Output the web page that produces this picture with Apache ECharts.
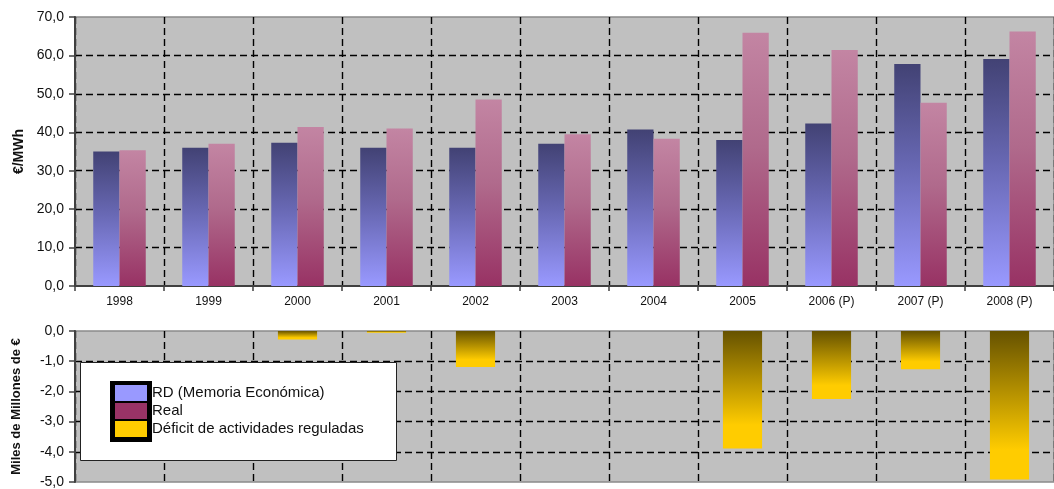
<!DOCTYPE html>
<html>
<head>
<meta charset="utf-8">
<style>
  html, body { margin: 0; padding: 0; background: #ffffff; }
  #chart { width: 1054px; height: 489px; }
</style>
<script src="https://cdn.jsdelivr.net/npm/echarts@6/dist/echarts.min.js"></script>
</head>
<body>
<div id="chart"></div>
<script>
// ---- data ----
const categories = ['1998', '1999', '2000', '2001', '2002', '2003', '2004', '2005', '2006 (P)', '2007 (P)', '2008 (P)'];
const rdValues   = [35.0, 36.0, 37.3, 36.0, 36.0, 37.0, 40.7, 38.0, 42.3, 57.8, 59.1];
const realValues = [35.3, 37.0, 41.4, 41.0, 48.5, 39.5, 38.3, 65.9, 61.4, 47.7, 66.2];
const deficitValues = [null, null, -0.28, -0.06, -1.19, null, null, -3.89, -2.25, -1.27, -4.92];
const seriesNames = ['RD (Memoria Económica)', 'Real', 'Déficit de actividades reguladas'];
const legendColors = ['#9999ff', '#993366', '#ffcc00'];
const topAxisName = '€/MWh';
const bottomAxisName = 'Miles de Millones de €';

const FONT = "'Liberation Sans', Arial, sans-serif";
const fmt = v => v.toFixed(1).replace('.', ',');
const grad = stops => new echarts.graphic.LinearGradient(0, 0, 0, 1,
  stops.map(s => ({ offset: s[0], color: s[1] })));

const dashed = { color: '#000', width: 1.4, type: [7, 4] };

const chart = echarts.init(document.getElementById('chart'), null, { renderer: 'canvas' });
chart.setOption({
  animation: false,
  textStyle: { fontFamily: FONT },
  grid: [
    { left: 75, top: 17, width: 984, height: 269, show: true, backgroundColor: '#c0c0c0',
      borderColor: '#8a8a8a', borderWidth: 1.5 },
    { left: 75, top: 331, width: 984, height: 152, show: true, backgroundColor: '#c0c0c0',
      borderColor: '#8a8a8a', borderWidth: 1.5 }
  ],
  xAxis: [
    { type: 'category', gridIndex: 0, data: categories, boundaryGap: true,
      axisLine: { show: true, lineStyle: { color: '#404040', width: 2 } },
      axisTick: { show: true, length: 5, lineStyle: { color: '#404040', width: 1.5 } },
      axisLabel: { color: '#111', fontSize: 12, margin: 10, fontFamily: FONT },
      splitLine: { show: true, lineStyle: dashed } },
    { type: 'category', gridIndex: 1, data: categories, boundaryGap: true, position: 'top',
      axisLine: { show: false }, axisTick: { show: false }, axisLabel: { show: false },
      splitLine: { show: true, lineStyle: dashed } }
  ],
  yAxis: [
    { type: 'value', gridIndex: 0, min: 0, max: 70, interval: 10,
      name: topAxisName, nameLocation: 'middle', nameGap: 48,
      nameTextStyle: { fontWeight: 'bold', fontSize: 14, color: '#111', fontFamily: FONT },
      axisLine: { show: true, lineStyle: { color: '#404040', width: 2 } },
      axisTick: { show: true, length: 6, lineStyle: { color: '#404040', width: 1.5 } },
      axisLabel: { formatter: fmt, color: '#111', fontSize: 14, margin: 11, fontFamily: FONT },
      splitLine: { show: true, showMinLine: false, showMaxLine: false, lineStyle: dashed } },
    { type: 'value', gridIndex: 1, min: -5, max: 0, interval: 1,
      name: bottomAxisName, nameLocation: 'middle', nameGap: 52,
      nameTextStyle: { fontWeight: 'bold', fontSize: 13, color: '#111', fontFamily: FONT },
      axisLine: { show: true, lineStyle: { color: '#404040', width: 2 } },
      axisTick: { show: true, length: 6, lineStyle: { color: '#404040', width: 1.5 } },
      axisLabel: { formatter: fmt, color: '#111', fontSize: 14, margin: 11, fontFamily: FONT },
      splitLine: { show: true, showMinLine: false, showMaxLine: false, lineStyle: dashed } }
  ],
  legend: {
    orient: 'vertical', left: 115, top: 385, padding: 0, z: 20,
    itemWidth: 32, itemHeight: 16, itemGap: 2, icon: 'rect', selectedMode: false,
    textStyle: { color: '#111', fontSize: 15, fontFamily: FONT, lineHeight: 16 },
    data: seriesNames.map((n, i) => ({ name: n, itemStyle: { color: legendColors[i], borderWidth: 0 } }))
  },
  graphic: [
    { type: 'rect', z: 15, shape: { x: 80.5, y: 362.5, width: 316, height: 98 },
      style: { fill: '#ffffff', stroke: '#222', lineWidth: 1 } },
    { type: 'rect', z: 16, shape: { x: 110, y: 381, width: 42, height: 61 },
      style: { fill: '#000000' } }
  ],
  series: [
    { name: seriesNames[0], type: 'bar', xAxisIndex: 0, yAxisIndex: 0, data: rdValues,
      barWidth: '29.5%', barGap: '0%',
      itemStyle: { color: grad([[0, '#424274'], [0.45, '#6767b2'], [1, '#9999ff']]) } },
    { name: seriesNames[1], type: 'bar', xAxisIndex: 0, yAxisIndex: 0, data: realValues,
      barWidth: '29.5%', barGap: '0%',
      itemStyle: { color: grad([[0, '#c385a3'], [0.45, '#b06a8c'], [1, '#983264']]) } },
    { name: seriesNames[2], type: 'bar', xAxisIndex: 1, yAxisIndex: 1, data: deficitValues,
      barWidth: '44%',
      itemStyle: { color: grad([[0, '#665200'], [0.8, '#ffcc00'], [1, '#ffcc00']]) } }
  ]
});
</script>
</body>
</html>
